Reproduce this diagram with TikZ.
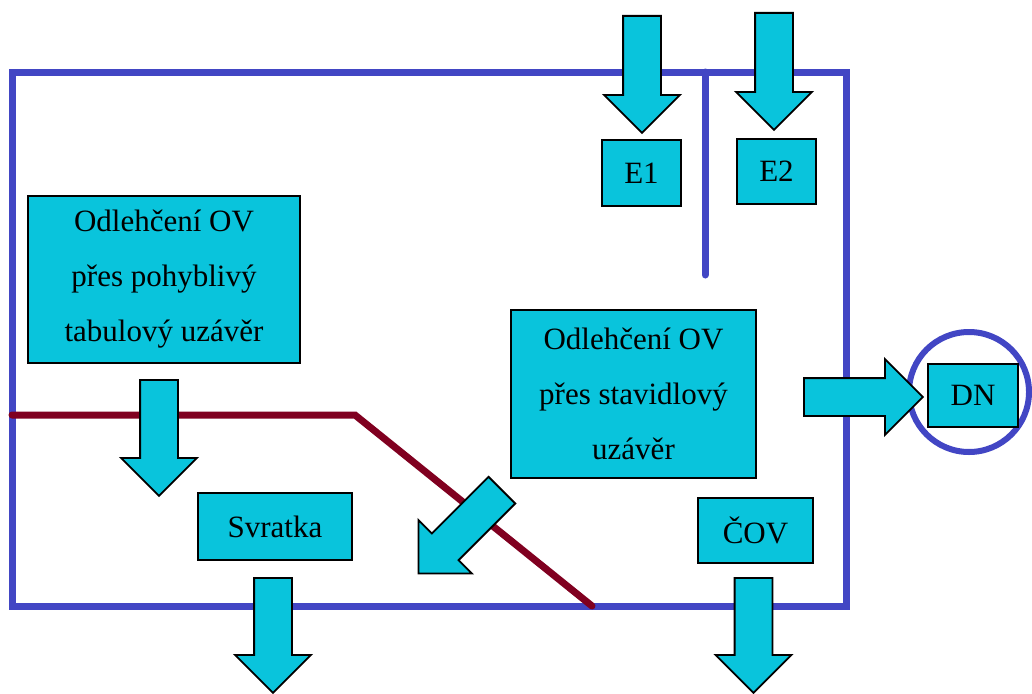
\documentclass[tikz,border=0pt]{standalone}
\usepackage{fontspec}
\setmainfont{Liberation Serif}
\usetikzlibrary{shapes.geometric, shapes.arrows}
\definecolor{cyanfill}{RGB}{9,196,220}
\definecolor{frameblue}{RGB}{66,70,196}
\definecolor{weirred}{RGB}{128,0,32}
\tikzstyle{box} = [rectangle, draw=black, line width=1.3, fill=cyanfill, align=center, inner sep=0pt, font=\fontsize{31}{55}\selectfont]
\tikzstyle{blockarrow} = [single arrow, draw=black, line width=1.8, fill=cyanfill, inner sep=0pt, inner ysep=18, single arrow head extend=19, single arrow head indent=0pt, minimum height=117, anchor=tail]
\tikzstyle{frame} = [line width=7, draw=frameblue]
\tikzstyle{weir} = [line width=7, draw=weirred, line cap=round]

\begin{document}
\begin{tikzpicture}[x=1pt, y=-1pt]
  \useasboundingbox (0,0) rectangle (1032,693);
  % outline of the area
  \draw [frame] (12,72) rectangle (846,606);
  \draw [frame, line cap=round] (705,72) -- (705,275);
  \draw [weir] (12,415) -- (355,415) -- (592,606);
  \node (dnring) [circle, draw=frameblue, line width=6, minimum size=120, inner sep=0pt] at (969,392) {};
  % boxes
  \node (tabulovy) [box, minimum width=272, minimum height=167] at (164,279.5) {Odlehčení OV\\přes pohyblivý\\tabulový uzávěr};
  \node (stavidlovy) [box, minimum width=245, minimum height=168] at (633.5,394) {Odlehčení OV\\přes stavidlový\\uzávěr};
  \node (e1) [box, minimum width=79, minimum height=66] at (641.5,173) {E1};
  \node (e2) [box, minimum width=79, minimum height=65] at (776.5,171.5) {E2};
  \node (dn) [box, minimum width=90, minimum height=63] at (973,395.5) {DN};
  \node (svratka) [box, minimum width=154, minimum height=67] at (275,526.5) {Svratka};
  \node (cov) [box, minimum width=115, minimum height=65] at (755.5,530.5) {ČOV};
  % block arrows, placed by their tails
  \node (ine1) [blockarrow, rotate=-90] at (642,15) {};
  \node (ine2) [blockarrow, rotate=-90] at (774,12) {};
  \node (outtab) [blockarrow, rotate=-90, minimum height=116] at (159,379) {};
  \node (outsvr) [blockarrow, rotate=-90, minimum height=115] at (273,577) {};
  \node (outcov) [blockarrow, rotate=-90, minimum height=115] at (753.5,577) {};
  \node (outdn) [blockarrow, minimum height=119] at (803,397) {};
  \node (outstav) [blockarrow, rotate=-135, minimum height=118] at (502.5,489.5) {};
\end{tikzpicture}
\end{document}
